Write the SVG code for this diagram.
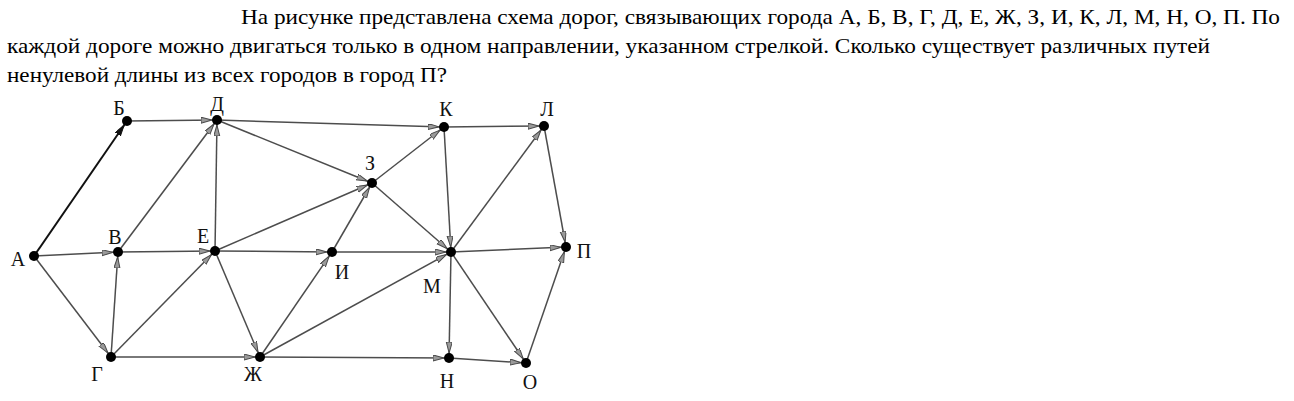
<svg xmlns="http://www.w3.org/2000/svg" width="1294" height="401" viewBox="0 0 1294 401">
<defs>
<marker id="ah" markerUnits="userSpaceOnUse" markerWidth="20" markerHeight="10" refX="16" refY="3" orient="auto">
<path d="M0,0 L11,3 L0,6 z" fill="#9a9a9a" stroke="#4a4a4a" stroke-width="1"/>
</marker>
<marker id="ahb" markerUnits="userSpaceOnUse" markerWidth="20" markerHeight="10" refX="16" refY="3" orient="auto">
<path d="M0,0 L11,3 L0,6 z" fill="#111" stroke="#111" stroke-width="1"/>
</marker>
</defs>
<style>
.q{font-family:"Liberation Serif","Times New Roman","DejaVu Serif",serif;font-size:22px;fill:#000}
.lb{font-family:"Liberation Serif","Times New Roman","DejaVu Serif",serif;font-size:20px;fill:#111;text-anchor:middle}
.e{stroke:#4d4d4d;stroke-width:1.5;fill:none;marker-end:url(#ah)}
.eb{stroke:#111;stroke-width:2;fill:none;marker-end:url(#ahb)}
.n{fill:#000}
</style>
<rect width="1294" height="401" fill="#fff"/>
<g id="question">
<text class="q" x="241" y="24" textLength="1039" lengthAdjust="spacingAndGlyphs">На рисунке представлена схема дорог, связывающих города А, Б, В, Г, Д, Е, Ж, З, И, К, Л, М, Н, О, П. По</text>
<text class="q" x="7" y="53" textLength="1203" lengthAdjust="spacingAndGlyphs">каждой дороге можно двигаться только в одном направлении, указанном стрелкой. Сколько существует различных путей</text>
<text class="q" x="7" y="82" textLength="440" lengthAdjust="spacingAndGlyphs">ненулевой длины из всех городов в город П?</text>
</g>
<g id="connectors">
<line class="eb" x1="34" y1="256" x2="127" y2="121"/>
<line class="e" x1="34" y1="256" x2="118" y2="252"/>
<line class="e" x1="34" y1="256" x2="111" y2="357"/>
<line class="e" x1="127" y1="121" x2="217" y2="120"/>
<line class="e" x1="118" y1="252" x2="217" y2="120"/>
<line class="e" x1="118" y1="252" x2="215" y2="251"/>
<line class="e" x1="111" y1="357" x2="118" y2="252"/>
<line class="e" x1="111" y1="357" x2="215" y2="251"/>
<line class="e" x1="111" y1="357" x2="260" y2="357"/>
<line class="e" x1="215" y1="251" x2="217" y2="120"/>
<line class="e" x1="215" y1="251" x2="372" y2="183"/>
<line class="e" x1="215" y1="251" x2="332" y2="252"/>
<line class="e" x1="215" y1="251" x2="260" y2="357"/>
<line class="e" x1="217" y1="120" x2="444" y2="127"/>
<line class="e" x1="217" y1="120" x2="372" y2="183"/>
<line class="e" x1="372" y1="183" x2="444" y2="127"/>
<line class="e" x1="372" y1="183" x2="451" y2="252"/>
<line class="e" x1="332" y1="252" x2="372" y2="183"/>
<line class="e" x1="332" y1="252" x2="451" y2="252"/>
<line class="e" x1="260" y1="357" x2="332" y2="252"/>
<line class="e" x1="260" y1="357" x2="451" y2="252"/>
<line class="e" x1="260" y1="357" x2="449" y2="358"/>
<line class="e" x1="444" y1="127" x2="544" y2="126"/>
<line class="e" x1="444" y1="127" x2="451" y2="252"/>
<line class="e" x1="451" y1="252" x2="544" y2="126"/>
<line class="e" x1="451" y1="252" x2="566" y2="247"/>
<line class="e" x1="451" y1="252" x2="449" y2="358"/>
<line class="e" x1="451" y1="252" x2="526" y2="363"/>
<line class="e" x1="544" y1="126" x2="566" y2="247"/>
<line class="e" x1="449" y1="358" x2="526" y2="363"/>
<line class="e" x1="526" y1="363" x2="566" y2="247"/>
</g>
<g id="node-A"><circle class="n" cx="34" cy="256" r="5"/><text class="lb" x="18" y="266">А</text></g>
<g id="node-B"><circle class="n" cx="127" cy="121" r="5"/><text class="lb" x="119" y="115">Б</text></g>
<g id="node-D"><circle class="n" cx="217" cy="120" r="5"/><text class="lb" x="217" y="111">Д</text></g>
<g id="node-V"><circle class="n" cx="118" cy="252" r="5"/><text class="lb" x="115" y="244">В</text></g>
<g id="node-E"><circle class="n" cx="215" cy="251" r="5"/><text class="lb" x="203" y="243">Е</text></g>
<g id="node-G"><circle class="n" cx="111" cy="357" r="5"/><text class="lb" x="97" y="381">Г</text></g>
<g id="node-Zh"><circle class="n" cx="260" cy="357" r="5"/><text class="lb" x="253" y="381">Ж</text></g>
<g id="node-Z"><circle class="n" cx="372" cy="183" r="5"/><text class="lb" x="370" y="170">З</text></g>
<g id="node-I"><circle class="n" cx="332" cy="252" r="5"/><text class="lb" x="342" y="279">И</text></g>
<g id="node-K"><circle class="n" cx="444" cy="127" r="5"/><text class="lb" x="446" y="116">К</text></g>
<g id="node-L"><circle class="n" cx="544" cy="126" r="5"/><text class="lb" x="547" y="116">Л</text></g>
<g id="node-M"><circle class="n" cx="451" cy="252" r="5"/><text class="lb" x="432" y="293">М</text></g>
<g id="node-P"><circle class="n" cx="566" cy="247" r="5"/><text class="lb" x="584" y="258">П</text></g>
<g id="node-N"><circle class="n" cx="449" cy="358" r="5"/><text class="lb" x="447" y="388">Н</text></g>
<g id="node-O"><circle class="n" cx="526" cy="363" r="5"/><text class="lb" x="530" y="389">О</text></g>
</svg>
